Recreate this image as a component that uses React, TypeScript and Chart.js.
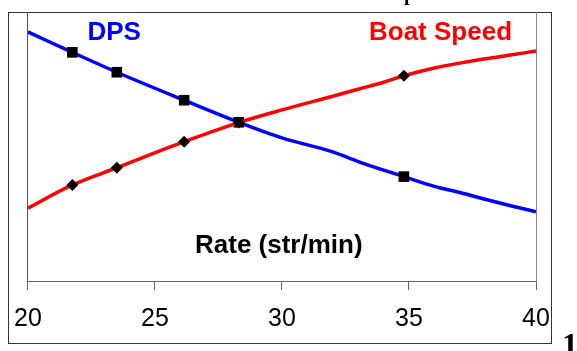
import React, { useEffect, useRef } from "react";
import { Chart, registerables } from "chart.js";

Chart.register(...registerables);

// Stroke rate (str/min) where the measured points sit
const markerRates = [21.75, 23.5, 26.15, 28.3, 34.8];
// Relative values (hidden y axis, 0-100)
const dpsMarkers = [85.0, 77.6, 67.2, 59.0, 38.8];
const speedMarkers = [35.7, 42.1, 51.8, 58.9, 76.3];

// Fitted curves
const dpsCurveRates = [20, 21.75, 23.5, 26.15, 28.3, 30, 32, 33, 34.8, 36, 37, 38, 39, 40];
const dpsCurve = [92.6, 85.0, 77.6, 67.2, 59.0, 53.2, 48.0, 44.4, 38.8, 35.2, 32.9, 30.4, 28.0, 25.7];

const speedCurveRates = [20, 21.75, 23.5, 26.15, 28.3, 30, 32, 33, 34, 34.8, 36, 37, 38, 39, 40];
const speedCurve = [27.1, 35.7, 42.1, 51.8, 58.9, 63.6, 68.7, 71.3, 73.9, 76.3, 79.2, 81.0, 82.6, 84.0, 85.5];

const xMin = 20;
const xMax = 40;
const xStep = 5;

const SANS = "'Liberation Sans', Arial, sans-serif";
const SERIF = "'Liberation Serif', 'Times New Roman', serif";

function pts(xs: number[], ys: number[]) {
  return xs.map((x, i) => ({ x, y: ys[i] }));
}

export default function App() {
  const ref = useRef<HTMLCanvasElement>(null);

  useEffect(() => {
    const chart = new Chart(ref.current!, {
      type: "scatter",
      data: {
        datasets: [
          {
            label: "Boat Speed points",
            data: pts(markerRates, speedMarkers),
            showLine: false,
            pointStyle: "rectRot",
            pointRadius: 6,
            pointBackgroundColor: "#000",
            pointBorderColor: "#000",
            pointBorderWidth: 0,
          },
          {
            label: "Boat Speed",
            data: pts(speedCurveRates, speedCurve),
            showLine: true,
            borderColor: "#FF0000",
            borderWidth: 3.5,
            pointRadius: 0,
            cubicInterpolationMode: "monotone",
          },
          {
            label: "DPS points",
            data: pts(markerRates, dpsMarkers),
            showLine: false,
            pointStyle: "rect",
            pointRadius: 7.5,
            pointBackgroundColor: "#000",
            pointBorderColor: "#000",
            pointBorderWidth: 0,
          },
          {
            label: "DPS",
            data: pts(dpsCurveRates, dpsCurve),
            showLine: true,
            borderColor: "#0000FF",
            borderWidth: 3.5,
            pointRadius: 0,
            cubicInterpolationMode: "monotone",
          },
        ],
      },
      options: {
        responsive: false,
        animation: false,
        events: [],
        layout: { padding: { left: 26, right: 41, top: 12, bottom: 8 } },
        plugins: { legend: { display: false }, tooltip: { enabled: false }, title: { display: false } },
        scales: {
          x: {
            type: "linear",
            min: xMin,
            max: xMax,
            ticks: {
              stepSize: xStep,
              color: "#000",
              padding: 14,
              font: { family: SANS, size: 25 },
              maxRotation: 0,
            },
            grid: {
              drawOnChartArea: false,
              drawTicks: true,
              tickLength: 9,
              color: "#666",
              lineWidth: 1,
            },
            border: { display: true, color: "#666", width: 1 },
            afterFit: (s: any) => {
              s.height = 62;
            },
          },
          y: {
            type: "linear",
            position: "left",
            min: 0,
            max: 100,
            ticks: { display: false },
            grid: { display: false, drawTicks: false },
            border: { display: true, color: "#555", width: 1 },
            afterFit: (s: any) => {
              s.width = 0;
            },
          },
          y2: {
            type: "linear",
            position: "right",
            min: 0,
            max: 100,
            ticks: { display: false },
            grid: { display: false, drawTicks: false },
            border: { display: true, color: "#888", width: 1 },
            afterFit: (s: any) => {
              s.width = 0;
            },
          },
        },
      },
    });
    return () => chart.destroy();
  }, []);

  const label = (text: string, left: number, baseline: number, color: string, size = 26) => (
    <div
      style={{
        position: "absolute",
        left,
        top: baseline - 0.8465 * size,
        fontFamily: SANS,
        fontWeight: "bold",
        fontSize: size,
        lineHeight: 1,
        color,
        whiteSpace: "nowrap",
      }}
    >
      {text}
    </div>
  );

  return (
    <div
      style={{
        position: "absolute",
        left: 0,
        top: 0,
        width: 577,
        height: 351,
        overflow: "hidden",
        background: "#fff",
      }}
    >
      <div
        style={{
          position: "absolute",
          left: 8,
          top: 12,
          width: 544,
          height: 332,
          boxSizing: "border-box",
          border: "1px solid #333",
        }}
      />
      <canvas
        ref={ref}
        width={577}
        height={351}
        style={{ position: "absolute", left: 0, top: 0, width: 577, height: 351 }}
      />
      {label("DPS", 87.5, 40, "#0000FF")}
      {label("Boat Speed", 369, 40, "#FF0000")}
      {label("Rate (str/min)", 195, 253, "#000")}
      <div
        style={{
          position: "absolute",
          left: 404,
          top: -17,
          fontFamily: SERIF,
          fontWeight: "bold",
          fontSize: 20,
          lineHeight: 1,
          color: "#000",
        }}
      >
        p
      </div>
      <div
        style={{
          position: "absolute",
          left: 562,
          top: 328,
          fontFamily: SERIF,
          fontWeight: "bold",
          fontSize: 32,
          lineHeight: 1,
          color: "#000",
        }}
      >
        1
      </div>
    </div>
  );
}
